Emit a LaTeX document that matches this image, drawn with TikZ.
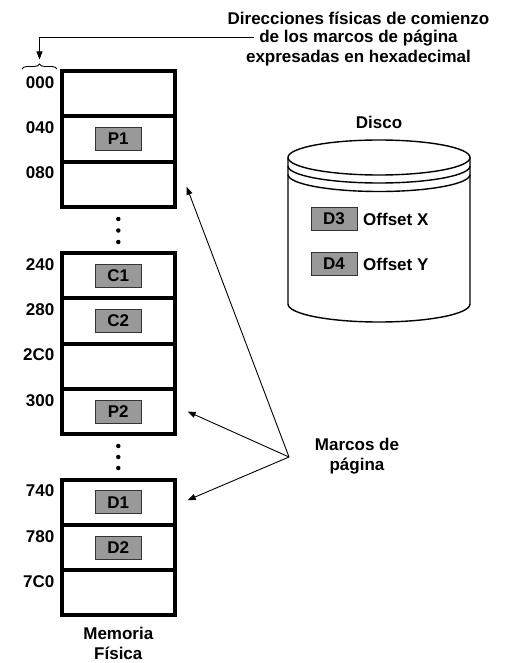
\documentclass[tikz,border=0pt]{standalone}
\usepackage{fontspec}
\setmainfont{Liberation Sans}
\usetikzlibrary{arrows.meta,calc,decorations.pathreplacing}
\begin{document}
\begin{tikzpicture}[x=1pt,y=1pt,
  lbl/.style={font=\bfseries\fontsize{17}{20}\selectfont, inner sep=0pt},
  frame/.style={draw, line width=4pt, minimum width=112.7pt, minimum height=45.3pt, inner sep=0pt},
  page/.style={lbl, draw=black!80, line width=0.8pt, fill=black!40, minimum width=46pt, minimum height=23pt},
  addr/.style={lbl, anchor=east},
  ptr/.style={line width=0.9pt, -{Triangle[length=8pt,width=6pt]}},
  memdot/.style={circle, fill, inner sep=0pt, minimum size=4.5pt},
  disk/.style={line width=1.4pt}]
\useasboundingbox (0,0) rectangle (505,-663);

% physical memory frames, three blocks
\foreach \name/\cy in {000/93.65, 040/138.95, 080/184.25,
                       240/275.65, 280/320.95, 2C0/366.25, 300/411.55,
                       740/502.15, 780/547.45, 7C0/592.75} {
  \node[frame] (r\name) at (118.3,-\cy) {};
  \node[addr] (a\name) at (54.5,-\cy+11.2) {\name};
}

% pages loaded in frames
\node[page] (p1) at (r040) {P1};
\node[page] (c1) at (r240) {C1};
\node[page] (c2) at (r280) {C2};
\node[page] (p2) at (r300) {P2};
\node[page] (d1) at (r740) {D1};
\node[page] (d2) at (r780) {D2};

% elisions between blocks
\foreach \y [count=\i] in {219,230.5,242} \node[memdot] (ea\i) at (118.3,-\y) {};
\foreach \y [count=\i] in {446,457,468} \node[memdot] (eb\i) at (118.3,-\y) {};

\node[lbl, align=center] (mem) at (118.3,-643.5) {Memoria\\Física};

% header note with arrow to the address column
\node[lbl] (h1) at (358.5,-18.5) {Direcciones físicas de comienzo};
\node[lbl] (h2) at (358.5,-38.5) {de los marcos de página};
\node[lbl] (h3) at (358.5,-58) {expresadas en hexadecimal};
\draw[decorate, decoration={brace, amplitude=5pt}, line width=0.9pt]
  (22,-69) coordinate (bra) -- (57,-69) coordinate (brb);
\coordinate (brtip) at (39.5,-59.5);
\draw[ptr] ([xshift=-5pt,yshift=1pt]h2.west) -| (brtip);

% disk
\node[lbl] (disco) at (379,-122) {Disco};
\draw[disk, fill=white] (288,-157.5) -- (288,-304)
  arc[start angle=180, end angle=360, x radius=91, y radius=18]
  -- (470,-157.5);
\draw[disk] (379,-157.5) ellipse[x radius=91, y radius=17.5];
\draw[disk] (288,-166) arc[start angle=180, end angle=360, x radius=91, y radius=17];
\draw[disk] (288,-174.5) arc[start angle=180, end angle=360, x radius=91, y radius=17];
\node[page] (d3) at (334,-219) {D3};
\node[lbl, anchor=west] (ox) at (363,-219) {Offset X};
\node[page] (d4) at (334,-264) {D4};
\node[lbl, anchor=west] (oy) at (363,-264) {Offset Y};

% page frame pointers
\node[lbl, align=center] (marcos) at (357,-456.5) {Marcos de\\página};
\coordinate (hub) at (289,-457);
\coordinate (tip1) at ($(r080.east)+(10,-2.5)$);
\coordinate (tip2) at ($(r300.east)+(11,0)$);
\coordinate (tip3) at ($(r740.east)+(11,2)$);
\draw[ptr] (hub) -- (tip1);
\draw[ptr] (hub) -- (tip2);
\draw[ptr] (hub) -- (tip3);
\end{tikzpicture}
\end{document}
